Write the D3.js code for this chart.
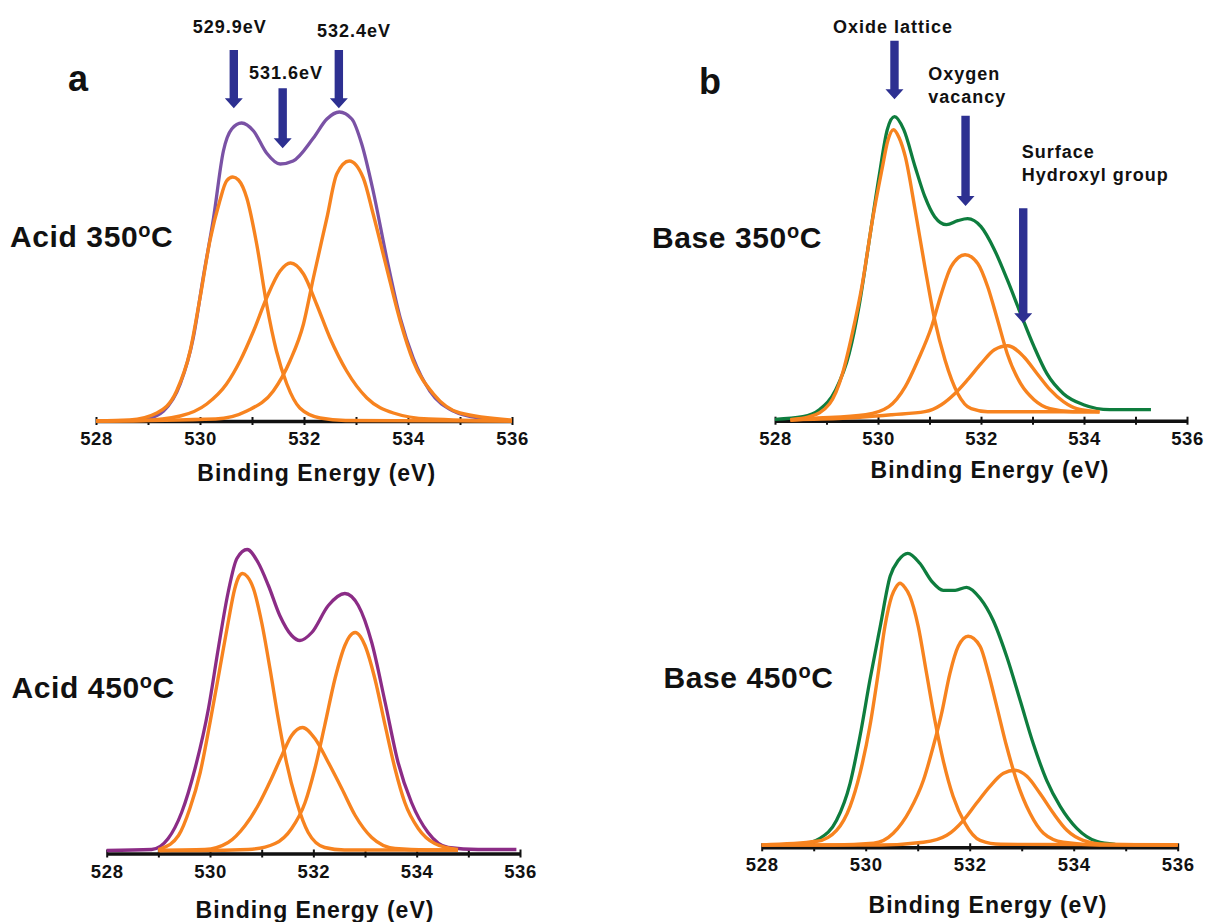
<!DOCTYPE html>
<html>
<head>
<meta charset="utf-8">
<script src="https://cdn.jsdelivr.net/npm/d3@7"></script>
<style>
body { margin: 0; background: #fff; }
svg text { font-family: "Liberation Sans", Arial, sans-serif; font-weight: bold; fill: #111; }
</style>
</head>
<body>
<div id="plot"></div>
<script>
// O 1s spectra: [binding energy (eV), intensity (a.u.)]
const energyTicks = [528, 529, 530, 531, 532, 533, 534, 535, 536];
const labelledTicks = [528, 530, 532, 534, 536];

const acid350Envelope = [[528.8,1],[528.97,2],[529.30,10],[529.62,37],[529.87,83],[530.06,143],[530.26,203],[530.45,270],[530.61,292],[530.80,298],[531.03,290],[531.28,268],[531.54,257],[531.79,260],[532.18,283],[532.44,302],[532.68,309],[532.92,302],[533.11,277],[533.33,230],[533.59,163],[533.85,103],[534.10,63],[534.42,30],[534.87,10],[535.38,3],[535.6,2]];
const acid350Peak1 = [[528,0],[528.65,1],[529.17,8],[529.55,30],[529.81,70],[530.0,123],[530.19,180],[530.38,220],[530.51,240],[530.63,244],[530.74,241],[530.90,223],[531.09,177],[531.28,117],[531.47,70],[531.67,37],[531.92,13],[532.31,3],[532.8,0.5],[536,0]];
const acid350Peak2 = [[528,0],[528.9,0.5],[529.62,5],[530.13,17],[530.51,37],[530.77,60],[531.03,90],[531.28,123],[531.54,150],[531.74,158],[531.99,147],[532.24,117],[532.5,83],[532.82,50],[533.21,23],[533.72,8],[534.4,2],[536,0]];
const acid350Peak3 = [[528,0],[530.3,2],[530.90,10],[531.41,30],[531.73,60],[531.99,97],[532.18,143],[532.44,203],[532.63,247],[532.87,260],[533.14,243],[533.33,207],[533.59,153],[533.85,100],[534.10,60],[534.49,27],[535.0,8],[536,1]];

const base350Envelope = [[528,1.4],[528.54,4],[528.86,11],[529.18,31],[529.44,67],[529.63,114],[529.82,177],[530.02,244],[530.18,291],[530.32,304],[530.50,291],[530.72,254],[530.91,224],[531.10,204],[531.33,196],[531.55,200],[531.74,202],[532.0,194],[532.26,171],[532.51,141],[532.77,107],[533.03,74],[533.28,47],[533.60,27],[533.99,16],[534.50,11],[535.30,11]];
const base350Peak1 = [[528.3,1],[528.67,4],[529.06,17],[529.31,47],[529.50,87],[529.70,138],[529.89,200],[530.08,252],[530.19,280],[530.30,291],[530.41,283],[530.53,264],[530.72,211],[530.91,154],[531.10,101],[531.30,61],[531.55,27],[531.81,12],[532.13,9],[534.3,9]];
const base350Peak2 = [[528.3,0.5],[528.67,2],[529.76,6],[530.21,14],[530.53,34],[530.78,61],[531.04,94],[531.23,127],[531.42,154],[531.69,166],[531.94,157],[532.13,134],[532.32,101],[532.51,67],[532.77,37],[533.03,21],[533.34,12],[533.79,9],[534.3,9]];
const base350Peak3 = [[528.3,1],[529.31,2.4],[530.27,6],[530.91,9],[531.23,16],[531.49,27],[531.74,41],[532.0,57],[532.26,71],[532.52,75],[532.83,64],[533.09,47],[533.34,31],[533.60,19],[533.86,12],[534.3,9]];

const acid450Envelope = [[528,3],[528.87,4],[529.19,15],[529.45,41],[529.71,85],[529.97,145],[530.16,205],[530.35,261],[530.52,295],[530.72,304],[530.93,291],[531.13,268],[531.35,238],[531.58,218],[531.74,213],[531.97,221],[532.29,248],[532.61,260],[532.87,248],[533.13,211],[533.39,151],[533.64,91],[533.90,51],[534.22,21],[534.61,6],[535.19,4],[535.93,4]];
const acid450Peak1 = [[529.0,4],[529.06,5],[529.39,18],[529.61,45],[529.81,81],[530.0,131],[530.19,185],[530.35,231],[530.48,265],[530.56,277],[530.63,280],[530.72,277],[530.84,265],[531.0,231],[531.16,185],[531.32,135],[531.48,91],[531.68,51],[531.90,21],[532.22,6],[532.6,3.5],[534.8,3.5]];
const acid450Peak2 = [[529.0,3],[529.90,4],[530.35,11],[530.68,28],[530.93,48],[531.19,75],[531.39,98],[531.58,118],[531.79,126],[532.03,115],[532.29,91],[532.55,65],[532.81,38],[533.13,16],[533.58,5],[534.2,3.5],[534.8,3.5]];
const acid450Peak3 = [[529.0,3],[529.8,3],[530.74,4],[531.26,10],[531.58,25],[531.84,51],[532.03,85],[532.22,128],[532.42,175],[532.61,208],[532.70,217],[532.81,221],[532.91,217],[533.0,208],[533.19,175],[533.39,128],[533.58,85],[533.77,51],[534.03,25],[534.35,10],[534.8,4]];

const base450Envelope = [[528.4,2.5],[528.74,3],[529.12,9],[529.44,27],[529.70,64],[529.89,111],[530.08,167],[530.28,221],[530.47,271],[530.63,287],[530.81,294],[531.04,284],[531.27,266],[531.49,257],[531.72,257],[531.94,260],[532.20,249],[532.45,227],[532.71,191],[532.97,147],[533.22,104],[533.48,67],[533.74,41],[534.06,19],[534.44,6],[534.8,3]];
const base450Peak1 = [[528,2.3],[529.06,6],[529.44,17],[529.70,41],[529.89,74],[530.08,121],[530.24,174],[530.37,221],[530.50,251],[530.58,260],[530.66,264],[530.75,260],[530.85,251],[531.01,221],[531.17,174],[531.33,127],[531.49,87],[531.68,51],[531.91,24],[532.20,7],[532.6,3],[536,2.5]];
const base450Peak2 = [[528,2.3],[529.4,2.3],[530.15,4],[530.53,14],[530.85,37],[531.11,67],[531.30,101],[531.46,134],[531.62,174],[531.78,201],[531.97,211],[532.20,201],[532.36,174],[532.52,141],[532.71,101],[532.90,67],[533.16,34],[533.42,14],[533.80,5],[534.5,2.3],[536,2.3]];
const base450Peak3 = [[528,2.3],[530.3,2.3],[531.11,5],[531.56,12],[531.88,27],[532.13,44],[532.39,61],[532.65,74],[532.87,77],[533.10,71],[533.35,54],[533.61,34],[533.87,17],[534.18,7],[534.6,3],[536,2.3]];

// arrows: energy the arrow points at, and its text
const acidArrowEnergy = [530.65, 531.59, 532.67];
const acidArrowText = ["529.9eV", "531.6eV", "532.4eV"];
const baseArrowEnergy = [530.32, 531.70, 532.82];
const baseArrowText = [["Oxide lattice"], ["Oxygen", "vacancy"], ["Surface", "Hydroxyl group"]];

const w = 1207;
const h = 922;
const orange = "#F7831F";
const navy = "#2D3091";

const svg = d3.select("#plot")
     .append("svg")
     .attr("width", w)
     .attr("height", h);

const panels = [
  {x0: 96, x1: 512, axisY: 421, env: acid350Envelope, envColor: "#7A52A5", peaks: [acid350Peak1, acid350Peak2, acid350Peak3],
   name: "Acid 350", nameX: 10, nameY: 246.7, titleX: 316.7, titleY: 480.7},
  {x0: 775, x1: 1187, axisY: 420.7, env: base350Envelope, envColor: "#0E7D3E", peaks: [base350Peak1, base350Peak2, base350Peak3],
   name: "Base 350", nameX: 652, nameY: 248, titleX: 990, titleY: 478},
  {x0: 106.7, x1: 520, axisY: 853.5, env: acid450Envelope, envColor: "#8B2C86", peaks: [acid450Peak1, acid450Peak2, acid450Peak3],
   name: "Acid 450", nameX: 11.5, nameY: 698, titleX: 315, titleY: 918.3},
  {x0: 761.7, x1: 1177.7, axisY: 847.3, env: base450Envelope, envColor: "#0E7D3E", peaks: [base450Peak1, base450Peak2, base450Peak3],
   name: "Base 450", nameX: 663.5, nameY: 688, titleX: 988, titleY: 913.3}
];

const scales = panels.map(constructPanel);

function constructPanel(p) {
  const x = d3.scaleLinear().domain([528, 536]).range([p.x0, p.x1]);
  const y = d3.scaleLinear().domain([0, 300]).range([p.axisY, p.axisY - 300]);
  const g = svg.append("g");

  //-------------------axis---------------------------
  const axis = d3.axisBottom(x)
       .tickValues(energyTicks)
       .tickSizeInner(4)
       .tickSizeOuter(0)
       .tickFormat(d => labelledTicks.includes(d) ? d : "");
  const ax = g.append("g")
       .attr("transform", "translate(0," + p.axisY + ")")
       .call(axis);
  ax.select(".domain").attr("stroke-width", 3.5).attr("stroke", "#111");
  ax.selectAll(".tick line").attr("y1", -4).attr("y2", 4).attr("stroke-width", 2).attr("stroke", "#111");
  ax.selectAll(".tick text")
       .attr("y", 24)
       .attr("dy", 0)
       .attr("font-size", 18.5)
       .style("letter-spacing", "0.6px");

  g.append("text")
       .attr("x", p.titleX)
       .attr("y", p.titleY)
       .attr("text-anchor", "middle")
       .attr("font-size", 23)
       .style("letter-spacing", "1px")
       .text("Binding Energy (eV)");

  //-------------------curves---------------------------
  const line = d3.line()
       .x(d => x(d[0]))
       .y(d => y(d[1]))
       .curve(d3.curveMonotoneX);

  g.append("path")
       .attr("d", line(p.env))
       .attr("fill", "none")
       .attr("stroke", p.envColor)
       .attr("stroke-width", 3.3);

  g.selectAll(".peak")
       .data(p.peaks)
       .enter()
       .append("path")
       .attr("class", "peak")
       .attr("d", line)
       .attr("fill", "none")
       .attr("stroke", orange)
       .attr("stroke-width", 3.4);

  //-------------------sample name---------------------------
  const t = g.append("text")
       .attr("x", p.nameX)
       .attr("y", p.nameY)
       .attr("font-size", 30)
       .style("letter-spacing", "0.6px");
  t.append("tspan").text(p.name);
  t.append("tspan").attr("font-size", 20).attr("dy", -10).text("o");
  t.append("tspan").attr("dy", 10).text("C");

  return x;
}

function arrow(cx, top, tip) {
  const sw = 4.2, hw = 9, hh = 10;
  return "M" + (cx - sw) + "," + top + "H" + (cx + sw) + "V" + (tip - hh) + "H" + (cx + hw) +
         "L" + cx + "," + tip + "L" + (cx - hw) + "," + (tip - hh) + "H" + (cx - sw) + "Z";
}

// panel letters
svg.append("text").attr("x", 68).attr("y", 90.7).attr("font-size", 36).text("a");
svg.append("text").attr("x", 699).attr("y", 94).attr("font-size", 36).text("b");

// peak arrows, panel a
const acidArrowLayout = [
  {top: 50, tip: 108.3, tx: 229.7, ty: 32.7},
  {top: 88.3, tip: 148.3, tx: 286, ty: 79},
  {top: 50, tip: 108.3, tx: 354, ty: 36.7}
];
acidArrowEnergy.forEach((e, i) => {
  const L = acidArrowLayout[i];
  svg.append("path").attr("d", arrow(scales[0](e), L.top, L.tip)).attr("fill", navy);
  svg.append("text")
       .attr("x", L.tx).attr("y", L.ty)
       .attr("text-anchor", "middle")
       .attr("font-size", 18)
       .style("letter-spacing", "1px")
       .text(acidArrowText[i]);
});

// peak arrows, panel b
const baseArrowLayout = [
  {top: 40.7, tip: 99.3, tx: 893, ty: 33, anchor: "middle"},
  {top: 115.7, tip: 206, tx: 928.3, ty: 80, anchor: "start"},
  {top: 208.3, tip: 323.3, tx: 1021.7, ty: 157.7, anchor: "start"}
];
baseArrowEnergy.forEach((e, i) => {
  const L = baseArrowLayout[i];
  svg.append("path").attr("d", arrow(scales[1](e), L.top, L.tip)).attr("fill", navy);
  baseArrowText[i].forEach((s, j) => {
    svg.append("text")
         .attr("x", L.tx).attr("y", L.ty + j * 23)
         .attr("text-anchor", L.anchor)
         .attr("font-size", 18)
         .style("letter-spacing", "1px")
         .text(s);
  });
});
</script>
</body>
</html>
